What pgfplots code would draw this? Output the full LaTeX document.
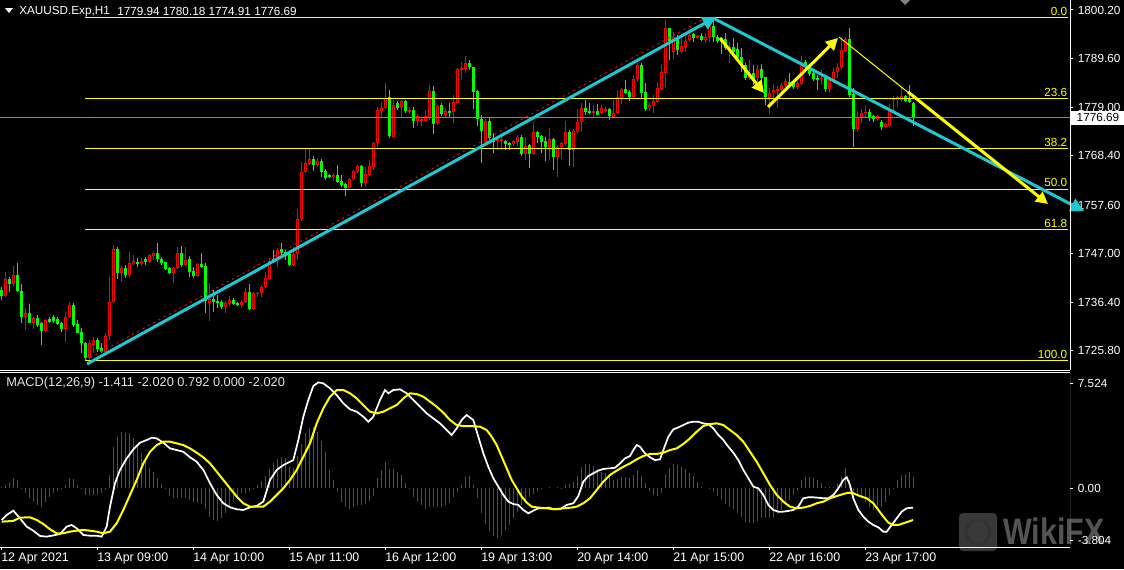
\documentclass[border=0pt]{standalone}
\usepackage{pgfplots}
\pgfplotsset{compat=1.18}
\usepackage{pgfplotstable}
\usepackage{fontspec}
\setmainfont{Liberation Sans}
\usetikzlibrary{arrows.meta}

\definecolor{cup}{HTML}{FF0000}
\definecolor{cdn}{HTML}{00FF00}
\definecolor{fib}{HTML}{FFFF00}
\definecolor{cyanl}{HTML}{1EC8D2}
\definecolor{hpos}{HTML}{D2143C}
\definecolor{hneg}{HTML}{1E6E1E}
\definecolor{pline}{HTML}{778899}
\newcommand{\lbl}{\fontsize{8.8}{10}\selectfont}
\newcommand{\lblw}{\fontsize{9.3}{10}\selectfont}

% H1 candles, k = bar index (0 = 12 Apr 2021)
\pgfplotstableread{
k o h l c
1 1737.83 1743.07 1737.61 1741.40
3 1740.38 1744.31 1739.80 1742.34
6 1733.25 1735.07 1730.34 1733.98
8 1731.94 1733.25 1730.63 1732.96
11 1730.19 1732.66 1729.97 1732.52
16 1730.48 1734.34 1727.79 1733.10
17 1733.10 1736.52 1732.88 1735.80
22 1724.15 1728.15 1723.64 1727.57
23 1727.06 1728.73 1725.24 1728.15
26 1725.61 1729.61 1725.39 1729.03
27 1729.03 1741.98 1728.15 1736.52
28 1736.52 1748.89 1736.30 1747.95
30 1742.85 1744.31 1740.89 1743.95
32 1742.34 1747.44 1741.98 1744.89
33 1744.75 1746.71 1744.53 1745.40
35 1744.75 1745.98 1744.31 1745.47
37 1745.11 1746.93 1744.89 1746.71
38 1746.57 1747.44 1745.62 1747.22
43 1742.85 1744.16 1740.67 1743.80
44 1743.80 1748.53 1743.58 1747.22
46 1744.53 1748.53 1744.16 1745.62
49 1742.13 1745.04 1741.98 1744.75
52 1736.30 1740.52 1732.37 1737.10
56 1735.43 1736.74 1733.98 1736.30
57 1736.01 1737.76 1735.58 1736.89
60 1735.79 1736.88 1735.06 1736.52
61 1736.52 1739.43 1736.16 1738.56
63 1734.85 1738.70 1734.70 1738.34
64 1738.19 1738.70 1737.61 1738.49
65 1738.34 1740.16 1737.61 1739.65
66 1739.65 1743.07 1739.43 1741.62
67 1741.47 1745.98 1741.25 1745.47
69 1745.62 1748.17 1744.16 1747.80
73 1744.53 1748.53 1744.31 1746.93
74 1746.93 1756.68 1745.62 1754.50
75 1754.50 1767.09 1754.21 1764.76
76 1764.76 1769.78 1764.54 1766.72
77 1766.58 1769.78 1766.36 1767.60
79 1766.36 1767.82 1766.00 1767.23
83 1763.67 1764.69 1762.94 1764.18
87 1761.41 1763.45 1761.27 1763.23
88 1763.23 1765.27 1763.09 1765.05
89 1764.91 1766.36 1764.54 1766.14
91 1762.50 1766.00 1761.63 1764.40
92 1764.18 1767.45 1763.96 1766.14
93 1765.99 1771.46 1765.27 1771.09
94 1771.09 1778.95 1770.36 1778.37
95 1778.22 1780.19 1776.55 1778.88
96 1778.73 1784.19 1778.52 1780.92
98 1772.55 1780.55 1772.40 1779.46
100 1778.95 1780.55 1776.91 1780.41
102 1778.00 1778.95 1777.50 1778.37
104 1776.04 1777.50 1774.88 1777.06
105 1775.97 1776.91 1774.88 1776.33
106 1776.04 1778.37 1775.82 1777.06
107 1776.55 1783.83 1776.19 1782.52
109 1775.46 1779.46 1775.09 1779.24
111 1777.28 1778.73 1776.55 1778.15
113 1778.00 1781.64 1775.46 1780.19
114 1779.97 1787.47 1779.83 1787.25
115 1787.10 1788.92 1785.06 1787.47
116 1787.25 1790.16 1786.52 1788.70
121 1771.45 1776.33 1770.94 1775.96
124 1771.67 1772.11 1769.63 1771.96
125 1771.67 1772.54 1769.63 1772.11
128 1770.94 1771.82 1770.51 1771.60
129 1771.45 1772.91 1770.51 1772.54
131 1768.76 1772.40 1767.45 1770.51
133 1768.76 1775.82 1768.54 1773.56
137 1770.36 1774.36 1767.45 1771.96
139 1768.18 1770.72 1763.67 1770.36
140 1770.21 1771.45 1767.59 1771.09
141 1770.94 1775.96 1770.51 1773.56
143 1769.63 1774.15 1765.99 1773.85
144 1773.64 1778.51 1773.27 1775.67
145 1775.67 1779.97 1773.64 1778.88
148 1777.86 1779.46 1776.91 1778.22
150 1777.64 1779.38 1777.49 1778.73
151 1778.37 1779.09 1777.64 1778.58
153 1776.91 1780.55 1776.77 1777.78
154 1777.64 1782.73 1777.49 1781.13
155 1780.91 1783.10 1779.68 1782.88
158 1781.28 1786.01 1781.13 1785.13
159 1785.06 1788.56 1784.55 1788.19
162 1778.73 1780.19 1778.22 1779.46
163 1779.31 1781.64 1777.78 1780.33
164 1780.19 1784.55 1779.82 1783.10
165 1782.95 1788.19 1782.73 1786.59
166 1786.52 1798.02 1783.46 1796.34
168 1791.10 1795.47 1789.40 1794.38
170 1791.10 1794.50 1790.88 1792.34
171 1792.05 1794.60 1791.10 1793.43
172 1793.65 1795.11 1793.29 1794.74
174 1794.23 1794.74 1793.80 1794.52
176 1793.65 1795.11 1792.92 1794.38
177 1794.23 1797.29 1793.29 1796.71
182 1791.47 1793.29 1788.56 1792.05
187 1785.28 1789.28 1784.92 1786.37
189 1785.28 1788.19 1783.46 1787.25
192 1780.91 1783.10 1777.49 1782.00
193 1782.00 1784.04 1780.55 1782.73
194 1782.59 1783.61 1778.73 1783.02
195 1782.73 1784.33 1781.64 1783.82
196 1783.61 1785.28 1783.31 1784.70
199 1783.31 1784.77 1782.88 1784.33
200 1784.04 1790.16 1783.82 1788.70
205 1785.13 1787.10 1783.82 1785.43
207 1782.95 1785.28 1782.00 1784.92
208 1784.77 1787.46 1784.33 1786.66
209 1786.59 1788.70 1785.28 1787.83
210 1787.68 1793.65 1787.25 1791.47
211 1791.32 1794.23 1791.10 1793.80
214 1774.22 1778.15 1773.64 1776.76
215 1776.55 1778.58 1775.60 1777.78
216 1777.49 1779.46 1776.91 1778.00
219 1776.33 1777.27 1776.04 1777.06
221 1774.73 1775.60 1774.36 1775.31
222 1774.87 1779.68 1774.73 1778.51
223 1780.55 1781.42 1778.37 1780.91
224 1780.55 1781.42 1779.09 1781.13
225 1780.55 1783.31 1780.19 1781.42
}\upc

\pgfplotstableread{
k o h l c
0 1739.07 1739.80 1736.89 1737.76
2 1741.47 1741.98 1738.71 1740.38
4 1742.34 1744.89 1738.56 1738.85
5 1738.85 1740.38 1731.94 1733.25
7 1733.98 1736.01 1731.79 1731.94
9 1732.96 1733.61 1731.06 1731.43
10 1731.94 1732.16 1727.06 1730.19
12 1732.66 1733.10 1731.94 1732.16
13 1733.10 1733.61 1731.94 1732.37
14 1732.66 1733.10 1731.43 1731.65
15 1731.79 1732.16 1729.97 1730.48
18 1735.80 1736.16 1731.06 1731.43
19 1731.57 1732.52 1729.61 1729.75
20 1729.90 1730.70 1725.24 1727.42
21 1727.42 1727.79 1723.64 1724.15
24 1728.15 1728.52 1725.61 1726.12
25 1726.41 1727.42 1725.24 1725.61
29 1747.95 1748.53 1741.40 1742.85
31 1743.95 1744.53 1741.62 1742.34
34 1745.26 1745.98 1744.16 1744.75
36 1745.84 1746.35 1744.53 1745.11
39 1747.08 1749.40 1745.26 1745.77
40 1745.77 1746.35 1744.53 1745.04
41 1745.11 1745.26 1743.44 1743.66
42 1743.80 1744.16 1742.56 1742.71
45 1747.22 1748.68 1744.16 1744.53
47 1745.77 1746.49 1741.98 1743.07
48 1743.22 1744.02 1741.62 1742.13
50 1744.75 1747.08 1743.80 1744.16
51 1744.31 1744.89 1733.98 1736.74
53 1737.10 1739.07 1734.34 1736.52
54 1736.74 1737.98 1735.07 1736.30
55 1736.52 1736.89 1734.85 1735.43
58 1736.89 1737.25 1735.80 1736.01
59 1736.30 1736.52 1735.58 1735.80
62 1738.56 1740.30 1734.70 1734.85
68 1745.84 1747.80 1744.89 1745.26
70 1747.95 1749.40 1746.35 1747.08
71 1747.44 1747.80 1745.62 1746.49
72 1746.93 1747.22 1744.31 1744.53
78 1767.60 1768.33 1765.12 1766.36
80 1767.23 1767.60 1763.67 1764.91
81 1765.05 1765.42 1763.09 1763.45
82 1764.18 1764.40 1763.45 1763.67
84 1764.18 1766.36 1762.36 1762.72
85 1762.87 1764.18 1761.63 1762.00
86 1762.21 1762.50 1759.59 1761.41
90 1766.14 1766.36 1761.63 1762.50
97 1781.14 1782.74 1772.18 1772.69
99 1779.83 1780.41 1778.37 1778.88
101 1780.41 1780.55 1777.79 1778.22
103 1778.37 1778.95 1774.51 1776.04
108 1782.52 1783.61 1773.13 1775.31
110 1779.46 1779.97 1777.06 1777.50
112 1778.15 1779.83 1776.91 1777.86
117 1788.70 1789.29 1787.10 1787.69
118 1787.68 1787.83 1778.51 1782.37
119 1782.51 1782.73 1774.87 1776.33
120 1776.33 1777.27 1766.87 1773.85
122 1775.96 1776.91 1771.82 1772.18
123 1772.18 1773.27 1769.05 1771.45
126 1771.60 1771.82 1769.63 1770.94
127 1771.16 1771.45 1769.63 1770.94
130 1772.54 1772.91 1768.32 1768.76
132 1770.72 1771.00 1765.78 1768.76
134 1773.56 1773.85 1771.23 1772.54
135 1772.69 1772.91 1769.05 1771.45
136 1771.67 1772.40 1767.30 1770.36
138 1771.96 1772.18 1765.27 1768.18
142 1773.56 1774.00 1766.14 1769.63
146 1778.73 1780.55 1777.27 1778.00
147 1778.22 1779.82 1777.49 1777.78
149 1778.15 1779.60 1777.20 1777.35
152 1778.51 1778.73 1776.18 1777.06
156 1782.88 1784.92 1781.86 1782.15
157 1782.37 1782.73 1780.40 1781.28
160 1788.19 1788.70 1780.70 1782.15
161 1782.37 1784.33 1778.22 1778.51
167 1796.20 1796.34 1789.28 1793.43
169 1794.00 1794.80 1790.40 1791.50
173 1794.96 1795.25 1793.29 1794.01
175 1794.52 1795.25 1793.50 1793.65
178 1796.71 1798.50 1793.29 1794.23
179 1794.38 1794.74 1792.92 1793.50
180 1794.01 1794.38 1790.52 1793.29
181 1793.80 1795.11 1791.47 1791.83
183 1792.05 1794.01 1790.74 1791.10
184 1791.61 1792.92 1789.28 1789.65
185 1790.01 1791.83 1786.74 1787.97
186 1788.19 1788.56 1784.92 1785.28
188 1786.52 1788.19 1783.82 1784.77
190 1787.25 1788.41 1784.77 1785.28
191 1785.50 1785.64 1779.46 1781.13
197 1784.55 1786.52 1783.31 1784.04
198 1784.33 1784.92 1783.02 1783.31
201 1788.92 1789.28 1787.25 1787.83
202 1787.83 1788.19 1785.79 1786.23
203 1786.52 1786.95 1784.77 1785.13
204 1785.43 1786.01 1782.73 1785.06
206 1785.28 1786.01 1782.37 1782.88
212 1793.80 1796.20 1781.13 1781.64
213 1781.86 1783.10 1770.21 1774.22
217 1778.00 1778.51 1776.04 1776.91
218 1777.06 1777.27 1775.82 1776.33
220 1775.82 1776.18 1774.00 1774.73
226 1781.42 1781.64 1780.19 1780.40
227 1780.91 1783.82 1779.82 1780.19
228 1779.94 1780.18 1774.91 1776.69
}\dnc

\pgfplotsset{
  bar/.style n args={2}{draw=none, mark=none, forget plot,
    error bars/.cd, y dir=both, y explicit, error mark=none,
    error bar style={draw=#1, line width=#2, solid}},
}

\begin{document}
\begin{tikzpicture}
\useasboundingbox (0pt,0pt) rectangle (843pt,-426.75pt);
\fill[black] (0pt,0pt) rectangle (843pt,-426.75pt);

% watermark
\begin{scope}[x=0.75pt,y=-0.75pt]
\fill[white!30!black, opacity=0.75, rounded corners=3pt] (959,513) rectangle (997,551);
\draw[black!80, line width=2.5pt] (978,532) circle[radius=9pt];
\node[anchor=west, text=white!33!black, inner sep=0pt, font=\bfseries\fontsize{24}{24}\selectfont] at (1003,531) {\scalebox{0.95}[1.15]{WikiFX}};
\end{scope}

% price window
\begin{axis}[
  at={(0pt,0pt)}, anchor=north west,
  scale only axis, width=802.5pt, height=277.5pt,
  xmin=-0.25, xmax=267.25, ymin=1721.6, ymax=1802.38,
  axis line style={draw=none},
  xtick=\empty,
  ytick={1725.8,1736.4,1747,1757.6,1768.4,1779,1789.6,1800.2},
  yticklabels={1725.80,1736.40,1747.00,1757.60,1768.40,1779.00,1789.60,1800.20},
  ytick pos=right, yticklabel pos=right,
  tick align=outside, major tick length=2.25pt,
  tick style={white, line width=0.75pt},
  yticklabel style={font=\lbl, text=white, inner sep=0pt, anchor=west, xshift=3.5pt},
  /pgf/number format/assume math mode=true,
  clip=false,
]
% wicks
\addplot[bar={cdn}{0.75pt}] table[x=k, y expr={(\thisrow{h}+\thisrow{l})/2}, y error expr={(\thisrow{h}-\thisrow{l})/2}] {\dnc};
\addplot[bar={cup}{0.75pt}] table[x=k, y expr={(\thisrow{h}+\thisrow{l})/2}, y error expr={(\thisrow{h}-\thisrow{l})/2}] {\upc};
% bodies
\addplot[bar={cdn}{2.25pt}] table[x=k, y expr={(\thisrow{o}+\thisrow{c})/2}, y error expr={max(abs(\thisrow{c}-\thisrow{o})/2,0.11)}] {\dnc};
\addplot[bar={cup}{2.25pt}] table[x=k, y expr={(\thisrow{o}+\thisrow{c})/2}, y error expr={max(abs(\thisrow{c}-\thisrow{o})/2,0.11)}] {\upc};
\addplot[bar={black}{0.75pt}] table[x=k, y expr={(\thisrow{o}+\thisrow{c})/2}, y error expr={max(abs(\thisrow{c}-\thisrow{o})/2-0.22,0)}] {\upc};

% bid line
\addplot[pline, line width=0.75pt, forget plot] coordinates {(-0.25,1776.69) (267.25,1776.69)};

% fibonacci retracement 1723.64 -> 1798.46
\addplot[cup, line width=0.75pt, dash pattern=on 1.5pt off 3pt, forget plot] coordinates {(21,1723.64) (176,1798.46)};
\addplot[fib, line width=0.75pt, forget plot] coordinates {(21,1798.46) (266.75,1798.46)};
\addplot[fib, line width=0.75pt, forget plot] coordinates {(21,1780.80) (266.75,1780.80)};
\addplot[fib, line width=0.75pt, forget plot] coordinates {(21,1769.88) (266.75,1769.88)};
\addplot[fib, line width=0.75pt, forget plot] coordinates {(21,1761.05) (266.75,1761.05)};
\addplot[fib, line width=0.75pt, forget plot] coordinates {(21,1752.22) (266.75,1752.22)};
\addplot[fib, line width=0.75pt, forget plot] coordinates {(21,1723.64) (266.75,1723.64)};
\foreach \lv/\tx in {1798.46/0.0, 1780.80/23.6, 1769.88/38.2, 1761.05/50.0, 1752.22/61.8, 1723.64/100.0}{
  \edef\tmp{\noexpand\node[anchor=south east, text=fib, font=\noexpand\lbl, inner sep=0pt] at (axis cs:266.6,\lv) [yshift=1.5pt] {\tx};}\tmp
}

% trend lines and arrows
\addplot[cyanl, line width=2.25pt, -{Triangle[length=10pt,width=10pt]}, forget plot] coordinates {(21.5,1722.91) (178.75,1798.67)};
\addplot[cyanl, line width=2.25pt, -{Triangle[length=10pt,width=10pt]}, forget plot] coordinates {(178,1798.45) (270.75,1756.31)};
\addplot[fib, line width=0.75pt, forget plot] coordinates {(209.5,1794.30) (228.5,1780.99)};
\addplot[fib, line width=2.25pt, -{Triangle[length=9pt,width=9pt]}, forget plot] coordinates {(226.75,1782.30) (261.75,1757.84)};
\addplot[fib, line width=2.25pt, -{Triangle[length=9pt,width=9pt]}, forget plot] coordinates {(179.75,1794.09) (190.75,1782.08)};
\addplot[fib, line width=2.25pt, -{Triangle[length=9pt,width=9pt]}, forget plot] coordinates {(191.75,1779.02) (209.25,1794.09)};

\draw[white, line width=0.75pt] (rel axis cs:1,0) -- (rel axis cs:1,1);
\draw[white, line width=0.75pt] (rel axis cs:0,0) -- (rel axis cs:1,0);
\coordinate (cp) at (axis cs:267.25,1776.69);
\end{axis}

\node[anchor=west, fill=white, text=black, font=\lbl, inner xsep=1pt, inner ysep=0pt, minimum height=10.5pt, minimum width=40pt, align=left] at ([xshift=0.75pt]cp) {1776.69};

% MACD window
\begin{axis}[
  at={(0pt,-279pt)}, anchor=north west,
  scale only axis, width=802.5pt, height=131.25pt,
  xmin=-0.25, xmax=267.25, ymin=-4.245, ymax=8.345,
  axis line style={draw=none},
  xtick={0,24,48,72,96,120,144,168,192,216},
  xticklabels={12 Apr 2021,13 Apr 09:00,14 Apr 10:00,15 Apr 11:00,16 Apr 12:00,19 Apr 13:00,20 Apr 14:00,21 Apr 15:00,22 Apr 16:00,23 Apr 17:00},
  xtick pos=bottom, xticklabel pos=bottom,
  ytick={-3.804,0,7.524}, yticklabels={-3.804,0.00,7.524},
  ytick pos=right, yticklabel pos=right,
  tick align=outside, major tick length=2.25pt,
  tick style={white, line width=0.75pt},
  xticklabel style={font=\lblw, text=white, inner sep=0pt, anchor=north west, yshift=-2pt},
  yticklabel style={font=\lbl, text=white, inner sep=0pt, anchor=west, xshift=3.5pt},
  /pgf/number format/assume math mode=true,
]
\addplot[ycomb, hpos, line width=0.75pt, mark=none] coordinates {
(0,0.05) (1,0.22) (2,0.46) (3,0.70) (4,0.58) (16,0.22) (17,0.70) (18,0.62) (19,0.22)
(27,0.94) (28,2.97) (29,3.69) (30,4.05) (31,3.98) (32,3.93) (33,3.57) (34,3.02) (35,2.49) (36,2.06) (37,1.46) (38,1.18) (39,0.70) (40,0.29)
(64,0.22) (65,0.53) (66,0.86) (67,1.39) (68,1.77) (69,2.11) (70,2.21) (71,2.13) (72,1.53) (73,1.41) (74,2.30) (75,3.17) (76,3.98) (77,4.29) (78,4.41) (79,4.05) (80,3.40) (81,2.61) (82,1.30) (83,0.58)
(94,0.70) (95,1.30) (96,1.89) (97,1.34) (98,1.34) (99,1.18) (100,0.94) (101,0.38)
(115,0.22) (116,0.77) (117,0.86) (118,0.22) (137,0.05) (139,0.05)
(141,0.22) (142,0.29) (143,0.46) (144,0.86) (145,1.53) (146,1.73) (147,1.73) (148,1.58) (149,1.34) (150,1.18) (151,1.06) (152,0.86) (153,0.58) (154,0.62) (155,0.82) (156,0.82) (157,0.70) (158,0.94) (159,1.30) (160,0.86) (161,0.38)
(166,1.01) (167,1.42) (168,1.73) (169,1.66) (170,1.54) (171,1.34) (172,1.10) (173,0.86) (174,0.46) (175,0.10)
(200,0.58) (201,0.77) (202,0.82) (203,0.70) (204,0.58) (205,0.34) (206,0.10) (207,0.05) (208,0.10) (209,0.29) (210,0.82) (211,1.46) (212,0.58)
(224,0.58) (225,0.94) (226,1.01) (227,1.18) (228,0.77)
};
\addplot[ycomb, hneg, line width=0.75pt, mark=none] coordinates {
(5,-0.05) (6,-0.38) (7,-0.74) (8,-0.98) (9,-1.22) (10,-1.34) (11,-0.98) (12,-0.62) (13,-0.38) (14,-0.19) (15,-0.10)
(20,-0.10) (21,-0.50) (22,-0.50) (23,-0.50) (24,-0.48) (25,-0.38) (26,-0.14)
(41,-0.10) (42,-0.50) (43,-0.74) (44,-0.74) (45,-0.67) (46,-0.74) (47,-0.86) (48,-0.98) (49,-1.10) (50,-1.10) (51,-1.53) (52,-2.06) (53,-2.30) (54,-2.35) (55,-2.18) (56,-1.77) (57,-1.39) (58,-0.91) (59,-0.55) (60,-0.38) (61,-0.34) (62,-0.19) (63,-0.05)
(84,-0.26) (85,-0.98) (86,-1.34) (87,-1.53) (88,-1.39) (89,-1.25) (90,-1.22) (91,-1.15) (92,-0.91) (93,-0.58)
(102,-0.02) (103,-0.62) (104,-0.98) (105,-1.22) (106,-1.53) (107,-1.34) (108,-1.39) (109,-1.34) (110,-1.34) (111,-1.22) (112,-1.10) (113,-0.67) (114,-0.26)
(119,-0.70) (120,-1.77) (121,-2.59) (122,-3.07) (123,-3.43) (124,-3.62) (125,-3.38) (126,-3.02) (127,-2.66) (128,-2.18) (129,-1.70) (130,-1.22) (131,-0.86) (132,-0.62) (133,-0.43) (134,-0.19) (135,-0.05) (140,-0.02)
(162,-0.19) (163,-0.50) (164,-0.58) (165,-0.34)
(177,-0.05) (178,-0.26) (179,-0.58) (180,-0.86) (181,-1.15) (182,-1.39) (183,-1.53) (184,-1.77) (185,-2.06) (186,-2.42) (187,-2.49) (188,-2.49) (189,-2.35) (190,-2.18) (191,-2.18) (192,-2.18) (193,-2.06) (194,-1.87) (195,-1.58) (196,-1.22) (197,-0.86) (198,-0.50) (199,-0.19)
(213,-0.34) (214,-0.58) (215,-0.74) (216,-0.98) (217,-1.34) (218,-1.58) (219,-1.53) (220,-1.34) (221,-0.98) (222,-0.50) (223,-0.02)
};
% MACD main (white)
\addplot[white, line width=1.3pt, mark=none] coordinates {
(0.17,-2.30) (1.42,-1.94) (3.08,-1.63) (4.75,-2.18) (6.42,-2.78) (8.08,-3.07) (9.75,-3.45) (11.42,-3.50) (13.08,-3.41) (14.75,-3.31) (16.42,-2.78) (17.67,-2.66) (18.92,-2.90) (20.58,-3.38) (22.25,-3.43) (23.92,-3.43) (25.17,-3.50) (26.42,-2.78) (27.25,-1.34) (28.5,0.34) (29.75,1.30) (31.42,2.13) (33.08,2.78) (34.75,3.26) (36.42,3.45) (37.67,3.62) (38.92,3.57) (40.58,3.26) (42.25,2.85) (43.92,2.73) (45.58,2.61) (47.25,2.21) (48.92,1.89) (50.58,1.30) (52.25,0.34) (53.92,-0.50) (55.58,-1.10) (57.25,-1.39) (58.92,-1.53) (60.58,-1.58) (62.25,-1.39) (63.92,-1.29) (65.58,-0.98) (67.25,0.58) (68.92,1.30) (70.58,1.65) (72.25,1.89) (73.08,2.01) (74.33,3.45) (75.58,5.13) (76.83,6.33) (78.08,7.34) (79.33,7.60) (80.58,7.53) (82.25,7.17) (83.92,6.69) (85.58,6.09) (87.25,5.66) (88.92,5.49) (90.58,5.13) (91.83,4.77) (93.08,5.13) (94.75,6.33) (96,7.05) (96.83,6.81) (98.08,7.05) (99.75,7.10) (101.42,6.81) (103.08,6.33) (104.75,5.85) (106.42,5.37) (108.08,5.01) (109.75,4.65) (111.42,4.17) (112.67,3.81) (113.92,4.29) (115.17,4.89) (116.42,5.25)
(118.08,4.89) (119.33,3.69) (120.58,2.49) (121.83,1.53) (123.08,0.70) (124.33,0.10) (125.58,-0.50) (126.83,-0.98) (128.08,-1.15) (129.33,-1.22) (130.58,-1.58) (131.83,-1.82) (133.08,-1.63) (134.33,-1.46) (135.58,-1.46) (136.83,-1.41) (138.08,-1.53) (139.75,-1.53) (141.42,-1.22) (143.08,-1.10) (144.33,-0.58) (145.58,0.46) (146.83,0.86) (148.08,1.06) (149.33,1.25) (150.58,1.37) (152.25,1.42) (153.5,1.46) (154.75,1.77) (156,2.13) (157.25,2.30) (158.08,2.73) (158.92,3.09) (159.75,2.97) (161,2.49) (162.25,2.21) (163.5,2.01) (164.75,2.06) (165.58,2.73) (166.83,3.69) (168.08,4.22) (169.33,4.36) (170.58,4.53) (171.83,4.70) (173.08,4.77) (174.33,4.77) (175.58,4.65) (176.83,4.60) (178.08,4.29) (179.33,3.81) (180.58,3.45) (181.83,2.97) (183.08,2.54) (184.33,2.01) (185.58,1.30) (186.83,0.70) (188.08,0.10) (189.33,-0.02) (190.58,-0.50) (191.83,-1.22) (193.08,-1.58) (194.33,-1.70) (195.58,-1.70) (196.83,-1.65) (198.08,-1.58) (199.33,-1.34) (200.58,-0.74) (201.83,-0.67) (203.08,-0.67) (204.33,-0.70) (205.58,-0.74) (206.83,-0.74) (208.08,-0.50) (209.33,-0.02) (210.58,0.58) (211.42,0.77) (212.25,0.22) (213.08,-0.74) (214.33,-1.58) (215.58,-2.06) (216.83,-2.42) (218.08,-2.66) (219.33,-2.83) (220.58,-3.14) (221.42,-3.14) (222.67,-2.66) (223.92,-2.18) (225.17,-1.70) (226.42,-1.46) (228,-1.41)
};
% signal (yellow)
\addplot[fib, line width=1.5pt, mark=none] coordinates {
(0.17,-2.42) (3.08,-2.37) (4.75,-2.13) (7.25,-2.11) (8.92,-2.30) (10.58,-2.59) (12.25,-2.97) (13.92,-3.26) (15.58,-3.26) (17.25,-3.14) (18.92,-3.07) (20.58,-3.02) (22.25,-3.07) (23.92,-3.14) (25.58,-3.26) (27.25,-3.14) (28.92,-2.54) (30.58,-1.58) (32.25,-0.50) (33.92,0.58) (35.58,1.77) (37.25,2.61) (38.92,3.09) (40.58,3.33) (42.25,3.33) (43.92,3.21) (45.58,3.09) (47.25,2.85) (48.92,2.54) (50.58,2.21) (52.25,1.77) (53.92,1.18) (55.58,0.58) (57.25,-0.02) (58.92,-0.62) (60.58,-1.10) (62.25,-1.34) (63.92,-1.34) (65.58,-1.34) (67.25,-0.98) (68.92,-0.50) (70.58,-0.02) (72.25,0.58) (73.92,1.30) (75.58,2.25) (77.25,3.21) (78.92,4.65) (80.58,5.73) (82.25,6.57) (83.92,7.05) (85.58,7.05) (87.25,6.81) (88.92,6.45) (90.58,5.97) (92.25,5.49) (93.92,5.37) (95.58,5.49) (97.25,5.73) (98.92,5.97) (100.58,6.45) (102.25,6.81) (103.92,6.76) (105.58,6.57) (107.25,6.21) (108.92,5.85) (110.58,5.42) (112.25,4.89) (113.92,4.53) (115.58,4.46) (117.25,4.46)
(119.75,4.41) (121.42,4.17) (122.67,3.69) (123.92,3.09) (125.17,2.25) (126.42,1.42) (127.67,0.58) (128.92,-0.02) (130.17,-0.62) (131.42,-1.05) (132.67,-1.34) (134.33,-1.41) (136.42,-1.46) (138.5,-1.53) (140.58,-1.46) (142.67,-1.41) (143.92,-1.34) (145.58,-1.10) (147.25,-0.74) (148.92,-0.14) (150.58,0.46) (152.25,0.94) (153.92,1.25) (155.58,1.53) (157.25,1.77) (158.92,2.06) (160.58,2.30) (162.25,2.45) (163.92,2.45) (165.58,2.54) (167.25,2.73) (168.92,2.85) (170.58,3.17) (172.25,3.57) (173.92,4.05) (175.58,4.46) (177.25,4.60) (178.92,4.65) (180.58,4.53) (182.25,4.17) (183.92,3.81) (185.58,3.33) (187.25,2.61) (188.92,1.89) (190.58,1.06) (192.25,0.22) (193.92,-0.50) (195.58,-0.98) (197.25,-1.34) (198.92,-1.46) (200.58,-1.41) (202.25,-1.29) (203.92,-1.10) (205.58,-0.98) (207.25,-0.74) (208.92,-0.58) (210.58,-0.43) (211.83,-0.34) (213.08,-0.38) (214.75,-0.58) (216.42,-0.74) (218.08,-1.10) (219.33,-1.58) (220.58,-2.06) (221.83,-2.49) (223.08,-2.66) (224.33,-2.66) (225.58,-2.54) (226.83,-2.42) (228,-2.30)
};
\draw[white, line width=0.75pt] (rel axis cs:0,1) -- (rel axis cs:1,1);
\draw[white, line width=0.75pt] (rel axis cs:1,0) -- (rel axis cs:1,1);
\draw[white, line width=0.75pt] (rel axis cs:0,0) -- (rel axis cs:1,0);
\end{axis}

% header texts
\begin{scope}[x=0.75pt,y=-0.75pt]
\fill[white] (5,8) -- (13,8) -- (9,13) -- cycle;
\node[anchor=west, text=white, font=\lbl, inner sep=0pt] at (19,11.5) {XAUUSD.Exp,H1};
\node[anchor=west, text=white, font=\lbl, inner sep=0pt] at (117,11.5) {1779.94 1780.18 1774.91 1776.69};
\fill[gray] (900,0) -- (910,0) -- (905,5) -- cycle;
\node[anchor=west, text=white!90!black, font=\fontsize{9.6}{10}\selectfont, inner sep=0pt] at (6,383) {MACD(12,26,9) -1.411 -2.020 0.792 0.000 -2.020};
\end{scope}
\end{tikzpicture}
\end{document}
